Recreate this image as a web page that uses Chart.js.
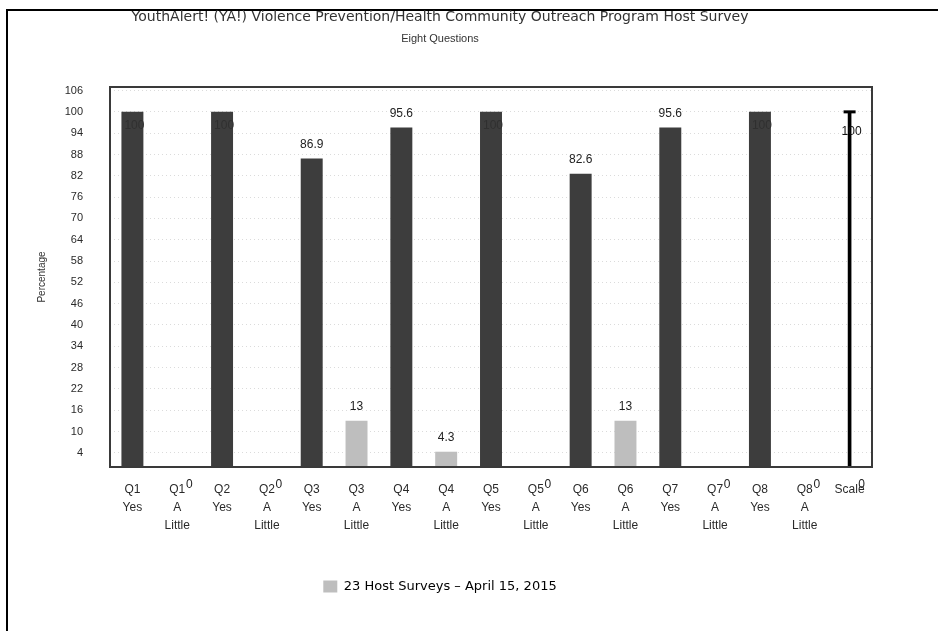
<!DOCTYPE html>
<html>
<head>
<meta charset="utf-8">
<script src="https://cdn.jsdelivr.net/npm/chart.js@4/dist/chart.umd.min.js"></script>
<style>
  html, body { margin: 0; padding: 0; background: #fff; }
  #wrap { width: 938px; height: 631px; }
</style>
</head>
<body>
<div id="wrap"><canvas id="myChart" width="938" height="631"></canvas></div>
<script>
// categories (multi-line tick labels)
const categories = [
  ['Q1', 'Yes'], ['Q1', 'A', 'Little'],
  ['Q2', 'Yes'], ['Q2', 'A', 'Little'],
  ['Q3', 'Yes'], ['Q3', 'A', 'Little'],
  ['Q4', 'Yes'], ['Q4', 'A', 'Little'],
  ['Q5', 'Yes'], ['Q5', 'A', 'Little'],
  ['Q6', 'Yes'], ['Q6', 'A', 'Little'],
  ['Q7', 'Yes'], ['Q7', 'A', 'Little'],
  ['Q8', 'Yes'], ['Q8', 'A', 'Little'],
  ['Scale']
];

// percentages from 23 host surveys
const surveyValues = [100, 0, 100, 0, 86.9, 13, 95.6, 4.3, 100, 0, 82.6, 13, 95.6, 0, 100, 0, 0];
// the thin reference bar at the end
const scaleValues = [null, null, null, null, null, null, null, null, null, null, null, null, null, null, null, null, 100];

const yTicks = [4, 10, 16, 22, 28, 34, 40, 46, 52, 58, 64, 70, 76, 82, 88, 94, 100, 106];

const titleText = 'YouthAlert! (YA!) Violence Prevention/Health Community Outreach Program Host Survey';
const subtitleText = 'Eight Questions';
const seriesLabel = '23 Host Surveys \u2013 April 15, 2015';

const DARK = '#3d3d3d';
const LIGHT = '#bebebe';

const barColors = categories.map(c => c[1] === 'Yes' ? DARK : LIGHT);

const framePlugin = {
  id: 'frame',
  beforeDraw(chart) {
    const ctx = chart.ctx;
    ctx.save();
    ctx.fillStyle = '#fff';
    ctx.fillRect(0, 0, chart.width, chart.height);
    ctx.strokeStyle = '#000';
    ctx.lineWidth = 2;
    ctx.beginPath();
    ctx.moveTo(7, chart.height);
    ctx.lineTo(7, 10);
    ctx.lineTo(chart.width, 10);
    ctx.stroke();
    ctx.restore();
  },
  afterDraw(chart) {
    const a = chart.chartArea;
    const ctx = chart.ctx;
    ctx.save();
    ctx.strokeStyle = '#3a3a3a';
    ctx.lineWidth = 2;
    ctx.strokeRect(a.left, a.top, a.right - a.left, a.bottom - a.top);
    ctx.restore();
  }
};

const valueLabels = {
  id: 'valueLabels',
  afterDatasetsDraw(chart) {
    const ctx = chart.ctx;
    const a = chart.chartArea;
    ctx.save();
    ctx.font = '12px "Liberation Sans", Arial, sans-serif';
    ctx.textAlign = 'center';
    ctx.textBaseline = 'middle';
    chart.getDatasetMeta(0).data.forEach((bar, i) => {
      const v = surveyValues[i];
      if (v === 0) {
        ctx.fillStyle = '#222';
        ctx.fillText('0', bar.x + 12, a.bottom + 18);
      } else if (v >= 100) {
        ctx.fillStyle = '#303030';
        ctx.fillText(String(v), bar.x + 2, bar.y + 14);
      } else {
        ctx.fillStyle = '#222';
        ctx.fillText(String(v), bar.x, bar.y - 14);
      }
    });
    // cap + label of the scale bar
    chart.getDatasetMeta(1).data.forEach((bar, i) => {
      if (scaleValues[i] == null) return;
      ctx.strokeStyle = '#000';
      ctx.lineWidth = 3;
      ctx.beginPath();
      ctx.moveTo(bar.x - 6, bar.y);
      ctx.lineTo(bar.x + 6, bar.y);
      ctx.stroke();
      ctx.fillStyle = '#111';
      ctx.fillText(String(scaleValues[i]), bar.x + 2, bar.y + 20);
    });
    ctx.restore();
  }
};

const ctx = document.getElementById('myChart');

new Chart(ctx, {
  type: 'bar',
  data: {
    labels: categories,
    datasets: [
      {
        label: seriesLabel,
        data: surveyValues,
        backgroundColor: barColors,
        borderWidth: 0,
        grouped: false,
        barPercentage: 0.49,
        categoryPercentage: 1
      },
      {
        label: 'Scale',
        data: scaleValues,
        backgroundColor: '#000',
        borderWidth: 0,
        grouped: false,
        barThickness: 3
      }
    ]
  },
  options: {
    responsive: false,
    animation: false,
    layout: { padding: { top: 4, left: 8, right: 66, bottom: 28 } },
    plugins: {
      title: {
        display: true,
        text: titleText,
        color: '#333',
        font: { family: '"DejaVu Sans", sans-serif', size: 14, weight: 'normal' },
        padding: { top: 5, bottom: 3 }
      },
      subtitle: {
        display: true,
        text: subtitleText,
        color: '#333',
        font: { family: '"Liberation Sans", Arial, sans-serif', size: 11 },
        padding: { top: 4, bottom: 41 }
      },
      legend: {
        position: 'bottom',
        labels: {
          color: '#333',
          font: { family: '"DejaVu Sans", sans-serif', size: 13 },
          boxWidth: 14,
          boxHeight: 12,
          padding: 10,
          generateLabels: (chart) => [{
            text: seriesLabel,
            fillStyle: LIGHT,
            strokeStyle: LIGHT,
            lineWidth: 0,
            datasetIndex: 0
          }]
        }
      },
      tooltip: { enabled: false }
    },
    scales: {
      x: {
        grid: { display: false, drawTicks: false },
        border: { display: false },
        ticks: {
          color: '#2a2a2a',
          autoSkip: false,
          maxRotation: 0,
          padding: 14,
          font: { family: '"Liberation Sans", Arial, sans-serif', size: 12, lineHeight: 1.5 }
        },
        afterFit(scale) { scale.height = 103; }
      },
      y: {
        min: 0,
        max: 107,
        afterBuildTicks(axis) { axis.ticks = yTicks.map(v => ({ value: v })); },
        grid: { color: 'rgba(0,0,0,0.14)', drawTicks: false },
        border: { display: false, dash: [1, 3] },
        ticks: {
          color: '#2a2a2a',
          padding: 27,
          font: { family: '"Liberation Sans", Arial, sans-serif', size: 11 }
        },
        title: {
          display: true,
          text: 'Percentage',
          color: '#333',
          font: { family: '"Liberation Sans", Arial, sans-serif', size: 10 },
          padding: { top: 28, bottom: 0 }
        },
        afterFit(scale) { scale.width = 102; }
      }
    }
  },
  plugins: [framePlugin, valueLabels]
});
</script>
</body>
</html>
